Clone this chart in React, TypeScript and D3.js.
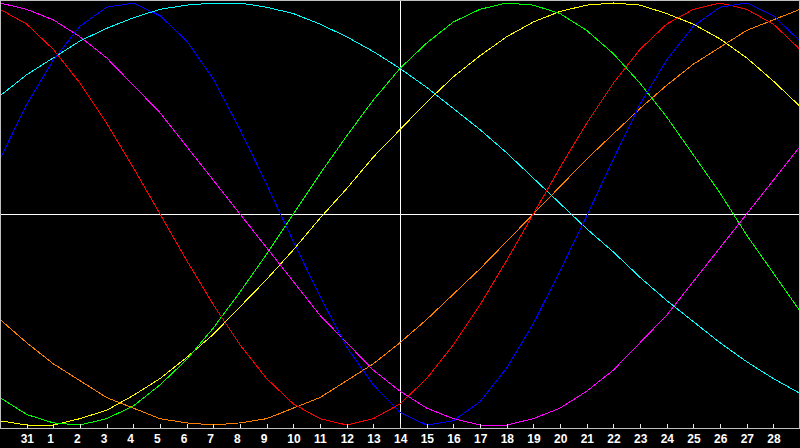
import { useEffect, useRef } from "react";
import * as d3 from "d3";

// one sample per day, index 0 is the day before "31", index 30 the day after "28"
const dayLabels = [
  "31", "1", "2", "3", "4", "5", "6", "7", "8", "9", "10", "11", "12", "13", "14",
  "15", "16", "17", "18", "19", "20", "21", "22", "23", "24", "25", "26", "27", "28",
];

const physical = [
  0.26, 0.52, 0.73, 0.89, 0.98, 1.0, 0.94, 0.82, 0.64, 0.4, 0.14, -0.13, -0.39, -0.63, -0.81, -0.94,
  -1.0, -0.98, -0.89, -0.73, -0.52, -0.27, -0.01, 0.26, 0.52, 0.73, 0.89, 0.98, 1.0, 0.94, 0.82,
];
const emotional = [
  0.97, 0.9, 0.78, 0.62, 0.43, 0.22, 0, -0.22, -0.43, -0.62, -0.78, -0.9, -0.97, -1.0, -0.97, -0.9,
  -0.78, -0.62, -0.43, -0.22, 0, 0.22, 0.43, 0.62, 0.78, 0.9, 0.97, 1.0, 0.97, 0.9, 0.78,
];
const intellectual = [
  -0.87, -0.95, -0.99, -1.0, -0.97, -0.91, -0.81, -0.69, -0.54, -0.37, -0.19, 0, 0.19, 0.37, 0.54, 0.69,
  0.81, 0.91, 0.97, 1.0, 0.99, 0.95, 0.87, 0.76, 0.62, 0.46, 0.28, 0.1, -0.1, -0.28, -0.46,
];
const intuitive = [
  1.0, 0.97, 0.92, 0.84, 0.74, 0.61, 0.48, 0.32, 0.16, 0, -0.16, -0.32, -0.48, -0.61, -0.74, -0.84,
  -0.92, -0.97, -1.0, -1.0, -0.97, -0.92, -0.84, -0.74, -0.61, -0.48, -0.32, -0.16, 0, 0.16, 0.32,
];
const aesthetic = [
  -0.98, -1.0, -1.0, -0.97, -0.93, -0.86, -0.78, -0.68, -0.57, -0.44, -0.31, -0.17, -0.02, 0.12, 0.27, 0.4,
  0.53, 0.65, 0.75, 0.84, 0.91, 0.96, 0.99, 1.0, 0.99, 0.95, 0.9, 0.83, 0.74, 0.63, 0.51,
];
const awareness = [
  -0.5, -0.61, -0.71, -0.79, -0.87, -0.92, -0.97, -0.99, -1.0, -0.99, -0.97, -0.92, -0.87, -0.79, -0.71, -0.61,
  -0.5, -0.38, -0.26, -0.13, 0, 0.13, 0.26, 0.38, 0.5, 0.61, 0.71, 0.79, 0.87, 0.92, 0.97,
];
const spiritual = [
  0.56, 0.66, 0.74, 0.82, 0.88, 0.93, 0.97, 0.99, 1.0, 1.0, 0.98, 0.95, 0.9, 0.84, 0.77, 0.69,
  0.6, 0.5, 0.4, 0.29, 0.17, 0.05, -0.07, -0.18, -0.3, -0.41, -0.51, -0.61, -0.7, -0.78, -0.85,
];

const series = [
  { values: awareness, color: "#ff8000" },
  { values: aesthetic, color: "#ffff00" },
  { values: intellectual, color: "#00ff00" },
  { values: intuitive, color: "#ff00ff" },
  { values: spiritual, color: "#00ffff" },
  { values: emotional, color: "#ff0000" },
  { values: physical, color: "#0000ff" },
];

const WIDTH = 800;
const HEIGHT = 448;
const AXIS_Y = 428;

export default function App() {
  const ref = useRef<SVGSVGElement>(null);

  useEffect(() => {
    const svg = d3.select(ref.current);
    svg.selectAll("*").remove();

    const x = d3.scaleLinear().domain([0, 30]).range([0, WIDTH]);
    const y = d3.scaleLinear().domain([-1, 1]).range([425, 3]);

    svg.append("rect").attr("width", WIDTH).attr("height", HEIGHT).attr("fill", "#000");

    // cross through the middle of the plot
    svg
      .append("line")
      .attr("x1", 0)
      .attr("x2", WIDTH)
      .attr("y1", Math.round(y(0)) + 0.5)
      .attr("y2", Math.round(y(0)) + 0.5)
      .attr("stroke", "#fff");
    svg
      .append("line")
      .attr("x1", Math.round(x(15)) + 0.5)
      .attr("x2", Math.round(x(15)) + 0.5)
      .attr("y1", 0)
      .attr("y2", AXIS_Y)
      .attr("stroke", "#fff");

    const line = d3
      .line<number>()
      .x((d, i) => x(i))
      .y((d) => y(d));

    series.forEach((s) => {
      svg
        .append("path")
        .datum(s.values)
        .attr("d", line)
        .attr("fill", "none")
        .attr("stroke", s.color)
        .attr("stroke-width", 1)
        .attr("shape-rendering", "crispEdges");
    });

    // frame
    const frame = svg.append("g").attr("stroke", "#c0c0c0").attr("shape-rendering", "crispEdges");
    frame.append("line").attr("x1", 0).attr("x2", WIDTH).attr("y1", 0.5).attr("y2", 0.5);
    frame.append("line").attr("x1", 0.5).attr("x2", 0.5).attr("y1", 0).attr("y2", AXIS_Y);
    frame.append("line").attr("x1", WIDTH - 0.5).attr("x2", WIDTH - 0.5).attr("y1", 0).attr("y2", AXIS_Y);
    frame.append("line").attr("x1", 0).attr("x2", WIDTH).attr("y1", AXIS_Y + 0.5).attr("y2", AXIS_Y + 0.5);

    const ticks = svg.append("g");
    ticks
      .selectAll("line")
      .data(dayLabels)
      .join("line")
      .attr("x1", (d, i) => Math.round(x(i + 1)) + 0.5)
      .attr("x2", (d, i) => Math.round(x(i + 1)) + 0.5)
      .attr("y1", AXIS_Y - 4)
      .attr("y2", AXIS_Y)
      .attr("stroke", "#e8e8e8")
      .attr("shape-rendering", "crispEdges");
    ticks
      .selectAll("text")
      .data(dayLabels)
      .join("text")
      .attr("x", (d, i) => x(i + 1) - 6)
      .attr("y", 443)
      .attr("fill", "#fff")
      .attr("font-family", "'Liberation Sans', Arial, sans-serif")
      .attr("font-size", "12px")
      .attr("font-weight", "bold")
      .text((d) => d);
  }, []);

  return (
    <svg
      ref={ref}
      width={WIDTH}
      height={HEIGHT}
      style={{ position: "absolute", left: 0, top: 0, display: "block" }}
    />
  );
}
